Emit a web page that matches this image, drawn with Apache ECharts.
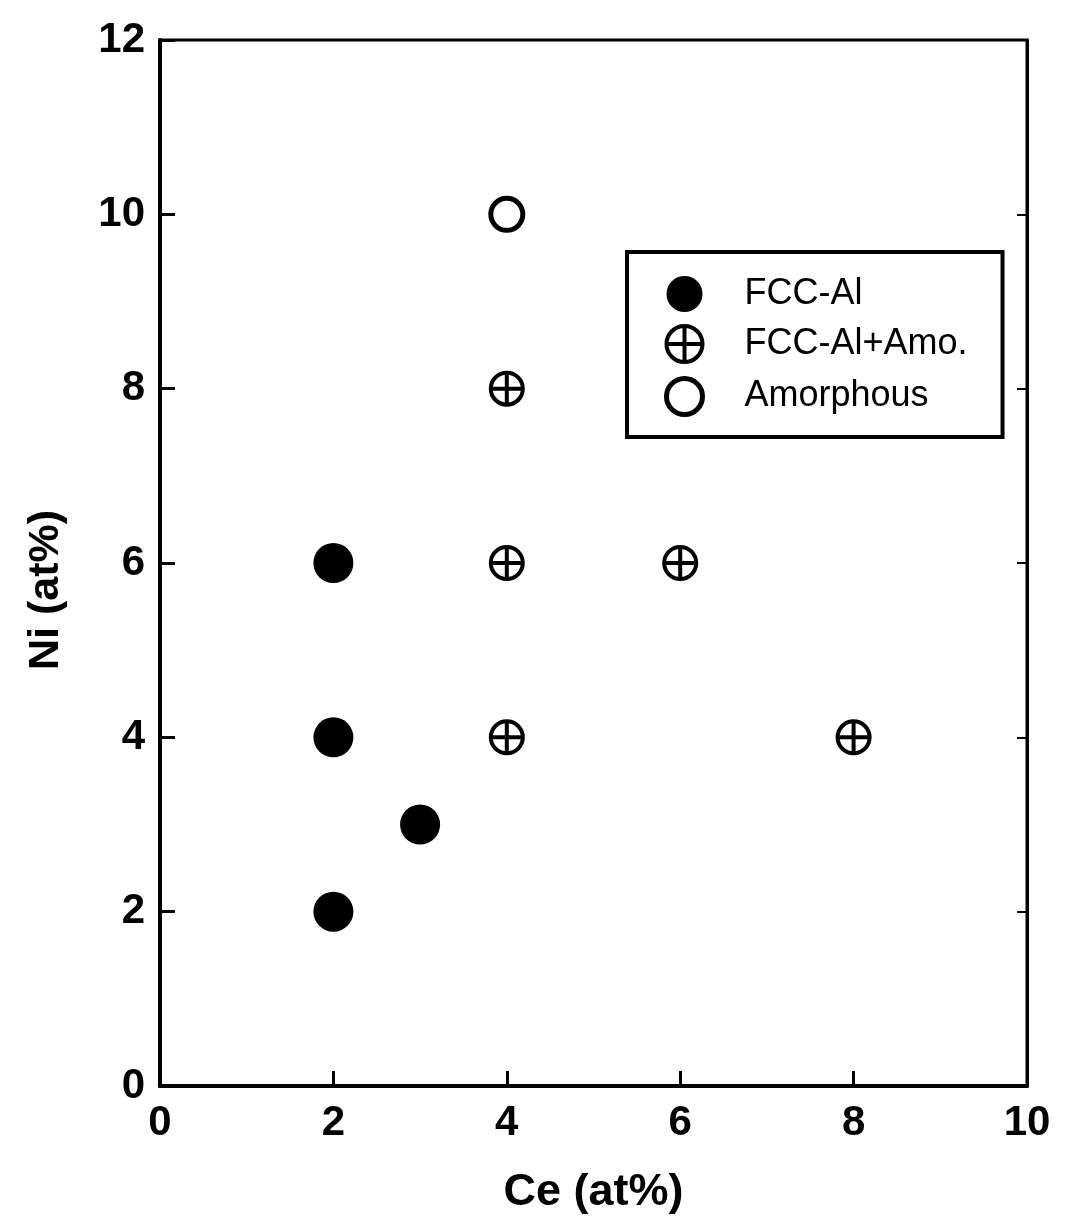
<!DOCTYPE html>
<html>
<head>
<meta charset="utf-8">
<script src="https://cdn.jsdelivr.net/npm/echarts@6/dist/echarts.min.js"></script>
<style>
    html, body { margin: 0; padding: 0; background: #fff; }
    #chart { width: 1071px; height: 1220px; }
</style>
</head>
<body>
<div id="chart"></div>
<script>
// 数据 [Ce, Ni]
var fccAl = [[2, 2], [2, 4], [2, 6], [3, 3]]
var fccAmo = [[4, 4], [4, 6], [4, 8], [6, 6], [8, 4]]
var amorphous = [[4, 10]]
var xTicks = [0, 2, 4, 6, 8, 10]
var yTicks = [0, 2, 4, 6, 8, 10, 12]

// 带十字的圆
var crossCircle = 'path://M0,-10 A10,10 0 1,1 0,10 A10,10 0 1,1 0,-10 Z M-10,0 L10,0 M0,-10 L0,10'

var font = 'Liberation Sans, Arial, sans-serif'

var myChart = echarts.init(document.getElementById('chart'))
var option = {
    animation: false,
    backgroundColor: '#fff',
    grid: {
        left: 160,
        right: 44,
        top: 40,
        bottom: 134,
        show: true,
        borderColor: '#000',
        borderWidth: 3
    },
    legend: {
        orient: 'vertical',
        left: 627,
        top: 252,
        padding: [24, 35, 20, 37],
        itemWidth: 36,
        itemHeight: 36,
        itemGap: 12,
        borderColor: '#000',
        borderWidth: 4,
        textStyle: { fontFamily: font, fontSize: 36, color: '#000', padding: [0, 0, 0, 37] },
        data: [
            { name: 'FCC-Al' },
            { name: 'FCC-Al+Amo.', itemStyle: { borderWidth: 4 } },
            { name: 'Amorphous', itemStyle: { borderWidth: 5 } }
        ]
    },
    xAxis: {
        type: 'value',
        min: xTicks[0],
        max: xTicks[xTicks.length - 1],
        interval: 2,
        name: 'Ce (at%)',
        nameLocation: 'middle',
        nameGap: 84,
        nameTextStyle: { fontFamily: font, fontSize: 45, fontWeight: 'bold', color: '#000' },
        axisLine: { show: true, lineStyle: { color: '#000', width: 4 } },
        axisTick: { show: true, inside: true, length: 15, lineStyle: { color: '#000', width: 3 } },
        axisLabel: { fontFamily: font, fontSize: 42, fontWeight: 'bold', color: '#000', margin: 16 },
        splitLine: { show: false }
    },
    yAxis: [
        {
            type: 'value',
            min: yTicks[0],
            max: yTicks[yTicks.length - 1],
            interval: 2,
            name: 'Ni (at%)',
            nameLocation: 'middle',
            nameGap: 92,
            nameTextStyle: { fontFamily: font, fontSize: 43, fontWeight: 'bold', color: '#000', padding: [0, 54, 0, 0] },
            axisLine: { show: true, lineStyle: { color: '#000', width: 4 } },
            axisTick: { show: true, inside: true, length: 15, lineStyle: { color: '#000', width: 3 } },
            axisLabel: { fontFamily: font, fontSize: 42, fontWeight: 'bold', color: '#000', margin: 15 },
            splitLine: { show: false }
        },
        {
            // 右侧刻度
            type: 'value',
            position: 'right',
            min: yTicks[0],
            max: yTicks[yTicks.length - 1],
            interval: 2,
            axisLine: { show: true, lineStyle: { color: '#000', width: 3 } },
            axisTick: { show: true, inside: true, length: 10, lineStyle: { color: '#000', width: 2 } },
            axisLabel: { show: false },
            splitLine: { show: false }
        }
    ],
    series: [
        {
            name: 'FCC-Al',
            type: 'scatter',
            symbol: 'circle',
            symbolSize: 40,
            itemStyle: { color: '#000', opacity: 1 },
            data: fccAl
        },
        {
            name: 'FCC-Al+Amo.',
            type: 'scatter',
            symbol: crossCircle,
            symbolSize: 32,
            itemStyle: { color: '#fff', borderColor: '#000', borderWidth: 4, opacity: 1 },
            data: fccAmo
        },
        {
            name: 'Amorphous',
            type: 'scatter',
            symbol: 'circle',
            symbolSize: 32,
            itemStyle: { color: '#fff', borderColor: '#000', borderWidth: 5, opacity: 1 },
            data: amorphous
        }
    ]
}
myChart.setOption(option)
window.addEventListener('resize', function () {
    myChart.resize()
})
</script>
</body>
</html>
